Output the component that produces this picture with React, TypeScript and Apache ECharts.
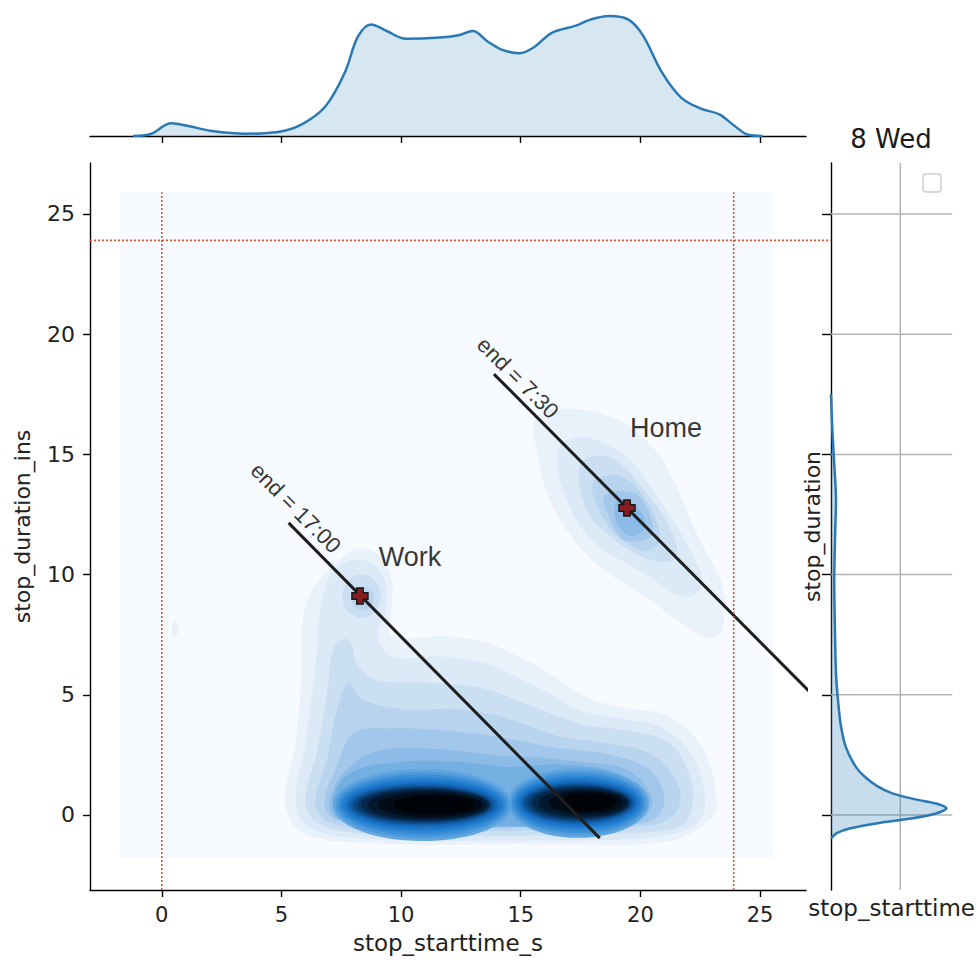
import React, { useEffect, useRef } from "react";
import * as echarts from "echarts";

// ---------- axis ticks ----------
const TICKS = [0, 5, 10, 15, 20, 25];
const X_RANGE = [-3.0, 26.92];
const Y_RANGE = [-3.12, 27.12];

// ---------- top marginal KDE (stop_starttime) ----------
const TOP_X = [-1.2, -0.5, 0.4, 1.1, 2.1, 3.5, 4.85, 5.85, 6.85, 7.65, 8.2, 8.75, 9.4, 10.2, 11.6, 12.4, 13.0, 13.6, 14.2, 14.95, 15.55, 16.3, 17.3, 17.9, 18.7, 19.5, 20.1, 20.9, 21.7, 22.5, 23.3, 23.9, 24.5, 25.1];
const TOP_DENS = [0, 0.014, 0.106, 0.083, 0.042, 0.019, 0.033, 0.097, 0.25, 0.53, 0.83, 0.93, 0.875, 0.81, 0.82, 0.84, 0.875, 0.79, 0.72, 0.69, 0.74, 0.86, 0.92, 0.97, 1.0, 0.97, 0.84, 0.53, 0.32, 0.23, 0.18, 0.09, 0.01, 0];

// ---------- right marginal KDE (stop_duration) ----------
const RIGHT_Y = [-0.97, -0.75, -0.55, -0.35, -0.15, 0.05, 0.28, 0.45, 0.65, 0.9, 1.2, 1.6, 2.0, 2.8, 3.7, 4.8, 5.9, 7.7, 9.8, 11.9, 13.2, 14.6, 16.0, 17.5];
const RIGHT_DENS = [0, 0.05, 0.17, 0.39, 0.69, 0.9, 1.0, 0.93, 0.73, 0.53, 0.4, 0.29, 0.215, 0.13, 0.086, 0.06, 0.043, 0.034, 0.028, 0.037, 0.043, 0.028, 0.012, 0];
const RIGHT_GRID_X = [0.6];

// ---------- joint KDE contour levels (data units) ----------
const LEVEL_COLORS = ["#f7fbff", "#e9f2fb", "#dce9f6", "#cbdff2", "#b8d4ee", "#a2c7ea", "#8bbbe6", "#74afe2"];
const CORE_COLORS = ["#62a6df", "#4f9bdc", "#3d90d8", "#2d86d4", "#217cce", "#1a72c6", "#1466b5", "#0f579e", "#0b4783", "#083766", "#052749", "#03192f", "#010c18", "#000307"];

const BG_LEVEL = [[-1.76, -1.8], [25.55, -1.8], [25.55, 25.9], [-1.76, 25.9]];
const C1_LOWER = [[5.14, 0.5], [5.6, 3.1], [5.84, 5.9], [5.9, 8.2], [6.3, 9.4], [7.3, 10.5], [8.2, 11.1], [9.1, 10.8], [9.6, 9.8], [9.6, 8.5], [9.5, 7.6], [10.1, 7.35], [11.75, 7.45], [13.6, 7.15], [15.7, 6.2], [17.75, 4.9], [19.1, 4.5], [21.2, 4.1], [22.6, 2.8], [23.2, 0.65], [23.0, -0.1], [21.2, -1.1], [15.7, -1.2], [8.7, -1.17], [5.9, -0.75]];
const C1_HOME = [[15.66, 16.57], [17.3, 16.9], [19.15, 16.4], [20.3, 15.5], [21.1, 14.5], [22.35, 11.7], [23.45, 9.5], [23.5, 8.2], [23.2, 7.4], [22.35, 7.56], [20.4, 8.94], [18.0, 10.6], [16.35, 12.8], [15.66, 15.2]];
const C1_SPOT = [0.55, 7.75, 0.13, 0.35];
const C2_LOWER = [[5.6, 0.5], [6.0, 3.0], [6.4, 6.0], [6.6, 8.4], [7.0, 9.9], [7.9, 10.6], [8.9, 10.4], [9.4, 9.5], [9.3, 8.3], [9.0, 7.6], [9.6, 6.6], [11.5, 6.6], [13.5, 6.3], [15.7, 5.3], [17.6, 4.3], [19.3, 4.0], [21.0, 3.6], [22.2, 2.4], [22.7, 0.7], [22.4, -0.3], [20.8, -0.9], [15.7, -1.05], [8.7, -1.0], [6.2, -0.55]];
const C2_HOME = [[16.6, 15.3], [17.75, 15.7], [19.4, 14.9], [20.8, 13.1], [22.1, 11.0], [22.6, 9.5], [21.8, 9.07], [20.1, 10.1], [18.0, 11.4], [16.8, 13.4]];
const C3_LOWER = [[6.0, 0.5], [6.5, 2.7], [6.9, 5.0], [7.2, 7.0], [7.8, 7.3], [8.2, 6.2], [9.0, 5.6], [11.0, 5.5], [13.3, 5.3], [15.3, 4.6], [17.5, 3.8], [19.5, 3.5], [21.2, 3.0], [22.0, 1.8], [22.2, 0.6], [21.7, -0.45], [19.5, -0.75], [15.0, -0.85], [9.0, -0.82], [6.6, -0.4]];
const C3_HOME = [[17.5, 14.6], [18.7, 14.9], [20.1, 13.6], [21.2, 12.0], [21.5, 10.7], [20.5, 10.6], [19.0, 11.4], [17.75, 12.7]];
const C3_WORK = [8.35, 9.1, 0.8, 0.9];
const C4_LOWER = [[6.4, 0.45], [6.9, 2.3], [7.3, 4.3], [7.8, 5.5], [8.4, 4.8], [10.0, 4.4], [12.5, 4.4], [14.5, 4.0], [16.5, 3.3], [18.5, 3.0], [20.5, 2.5], [21.5, 1.4], [21.6, 0.3], [20.6, -0.4], [15.0, -0.65], [9.0, -0.62], [7.0, -0.3]];
const C4_HOME = [[18.0, 13.8], [19.15, 14.1], [20.3, 13.0], [20.8, 11.4], [20.0, 11.0], [18.6, 12.1]];
const C4_WORK = [8.4, 9.0, 0.45, 0.5];
const C5_LOWER = [[6.8, 0.45], [7.3, 2.0], [8.0, 3.4], [9.5, 3.6], [12.0, 3.5], [14.3, 3.2], [16.5, 2.8], [18.8, 2.5], [20.5, 1.8], [21.0, 0.5], [20.3, -0.3], [15.0, -0.5], [9.0, -0.48], [7.3, -0.2]];
const C5_HOME = [[18.5, 13.3], [19.9, 13.3], [20.5, 11.7], [19.4, 11.4], [18.75, 12.25]];
const C6_LOWER = [[7.0, 0.45], [7.6, 1.75], [9.0, 2.65], [11.5, 2.75], [13.8, 2.5], [15.5, 2.4], [17.5, 2.2], [19.5, 1.85], [20.5, 0.6], [19.8, -0.3], [15.0, -0.5], [9.0, -0.48], [7.4, -0.2]];
const C6_HOME = [[19.0, 13.0], [19.8, 12.9], [20.2, 12.0], [19.6, 11.6], [19.0, 12.2]];
const C7_LOWER = [[7.15, 0.45], [7.8, 1.7], [10.0, 2.2], [12.5, 2.2], [14.4, 2.0], [16.5, 2.1], [18.7, 1.85], [20.2, 1.0], [20.3, 0.2], [19.4, -0.45], [16.0, -0.55], [14.4, -0.45], [11.0, -0.55], [8.0, -0.35]];
// core ellipses [cx, cy, rx, ry], one row per level, light to dark
const LEFT_CORE = [[10.9, 0.42, 3.75, 1.5], [10.9, 0.42, 3.65, 1.38], [10.9, 0.42, 3.55, 1.27], [10.9, 0.42, 3.45, 1.17], [10.9, 0.42, 3.35, 1.07], [10.9, 0.42, 3.24, 0.98], [10.9, 0.42, 3.13, 0.9], [10.9, 0.42, 3.02, 0.83], [10.9, 0.42, 2.91, 0.77], [10.95, 0.42, 2.8, 0.71], [11.0, 0.42, 2.68, 0.66], [11.1, 0.42, 2.5, 0.6], [11.2, 0.42, 2.2, 0.5], [11.4, 0.42, 1.7, 0.4]];
const RIGHT_CORE = [[17.4, 0.5, 2.95, 1.45], [17.4, 0.5, 2.86, 1.34], [17.4, 0.5, 2.77, 1.24], [17.4, 0.5, 2.68, 1.14], [17.4, 0.5, 2.59, 1.05], [17.4, 0.5, 2.5, 0.97], [17.4, 0.5, 2.41, 0.89], [17.4, 0.5, 2.32, 0.82], [17.4, 0.5, 2.23, 0.76], [17.45, 0.5, 2.13, 0.7], [17.5, 0.5, 2.02, 0.64], [17.6, 0.5, 1.85, 0.57], [17.7, 0.52, 1.55, 0.48], [17.85, 0.54, 1.15, 0.37]];

// ---------- annotations ----------
const LINE_WORK = [[5.3, 12.15], [18.3, -0.96]];
const LINE_HOME = [[13.88, 18.34], [27.5, 4.7]];
const CENTROIDS = [[8.28, 9.11], [19.44, 12.77]];
const RED_V1 = [[0, -3.12], [0, 25.9]];
const RED_V2 = [[23.9, -3.12], [23.9, 25.9]];
const RED_H = [[-3.0, 23.9], [27.95, 23.9]];
const TEXT_LABELS = [
  { text: "end = 17:00", pos: [5.6, 12.77], rotate: -45, size: 22 },
  { text: "end = 7:30", pos: [14.88, 18.18], rotate: -45, size: 22 },
  { text: "Home", pos: [21.07, 16.1], rotate: 0, size: 27 },
  { text: "Work", pos: [10.37, 10.73], rotate: 0, size: 27 },
];

type Shape = { kind: "poly" | "ell"; d: any; color: string; smooth: number };
const poly = (d: number[][], level: number, smooth = 0.35): Shape => ({ kind: "poly", d, color: LEVEL_COLORS[level], smooth });
const ell = (d: number[], color: string): Shape => ({ kind: "ell", d, color, smooth: 0 });
const SHAPES: Shape[] = [
  poly(BG_LEVEL, 0, 0),
  ell(C1_SPOT, LEVEL_COLORS[1]),
  poly(C1_LOWER, 1), poly(C1_HOME, 1),
  poly(C2_LOWER, 2), poly(C2_HOME, 2),
  poly(C3_LOWER, 3), poly(C3_HOME, 3), ell(C3_WORK, LEVEL_COLORS[3]),
  poly(C4_LOWER, 4), poly(C4_HOME, 4), ell(C4_WORK, LEVEL_COLORS[4]),
  poly(C5_LOWER, 5), poly(C5_HOME, 5),
  poly(C6_LOWER, 6), poly(C6_HOME, 6),
  poly(C7_LOWER, 7),
  ...LEFT_CORE.flatMap((e, i) => [ell(e, CORE_COLORS[i]), ell(RIGHT_CORE[i], CORE_COLORS[i])]),
];

const FONT = "DejaVu Sans";
const ARIAL = "Liberation Sans";
const KDE_LINE = "#2a78b4";
const KDE_FILL = "rgba(31,119,180,0.25)";
const RED = "#e2502f";

export default function App() {
  const ref = useRef<HTMLDivElement>(null);
  useEffect(() => {
    if (!ref.current) return;
    const chart = echarts.init(ref.current, null, { renderer: "svg" });

    const redLine = (data: number[][]) => ({
      type: "line", xAxisIndex: 0, yAxisIndex: 0, data, symbol: "none", z: 6,
      lineStyle: { color: RED, width: 1.6, type: [2, 2] }, silent: true,
    });
    const blackLine = (data: number[][]) => ({
      type: "line", xAxisIndex: 0, yAxisIndex: 0, data, symbol: "none", z: 4,
      lineStyle: { color: "#1e1e1e", width: 3 }, silent: true,
    });
    const gridSeries: any[] = TICKS.map((v) => ({
      type: "line", xAxisIndex: 2, yAxisIndex: 2, data: [[0, v], [1.05, v]], symbol: "none",
      lineStyle: { color: "#b3b3b3", width: 1.5 }, silent: true, z: 1,
    }));
    RIGHT_GRID_X.forEach((v) => gridSeries.push({
      type: "line", xAxisIndex: 2, yAxisIndex: 2, data: [[v, Y_RANGE[0]], [v, Y_RANGE[1]]], symbol: "none",
      lineStyle: { color: "#b3b3b3", width: 1.5 }, silent: true, z: 1,
    }));

    const staticGraphics: any[] = [
      {
        id: "title", type: "text", x: 891, y: 139, z: 10,
        style: { text: "8 Wed", fontSize: 26, fontFamily: FONT, fill: "#1a1a1a", textAlign: "center", textVerticalAlign: "middle" },
      },
      {
        id: "legendBox", type: "rect", shape: { x: 923, y: 174, width: 18, height: 18, r: 3 }, z: 10,
        style: { fill: "#ffffff", stroke: "#cfcfcf", lineWidth: 1.5 },
      },
    ];

    const option: any = {
      animation: false,
      backgroundColor: "#ffffff",
      grid: [
        { left: 90, top: 163, width: 716, height: 727 },
        { left: 90, top: 10, width: 716, height: 126 },
        { left: 831, top: 163, width: 122, height: 727 },
      ],
      xAxis: [
        {
          gridIndex: 0, type: "value", min: X_RANGE[0], max: X_RANGE[1],
          axisLine: { onZero: false, lineStyle: { color: "#000", width: 1.4 } },
          axisTick: { length: 7, customValues: TICKS, lineStyle: { color: "#000", width: 1.4 } },
          axisLabel: { customValues: TICKS, fontSize: 21, color: "#222", margin: 14, fontFamily: FONT },
          splitLine: { show: false },
          name: "stop_starttime_s", nameLocation: "middle", nameGap: 41,
          nameTextStyle: { fontSize: 23, color: "#222", fontFamily: FONT },
        },
        {
          gridIndex: 1, type: "value", min: X_RANGE[0], max: X_RANGE[1],
          axisLine: { onZero: false, lineStyle: { color: "#000", width: 1.4 } },
          axisTick: { length: 7, customValues: TICKS, lineStyle: { color: "#000", width: 1.4 } },
          axisLabel: { show: false }, splitLine: { show: false },
        },
        {
          gridIndex: 2, type: "value", min: 0, max: 1.05,
          axisLine: { show: false, onZero: false }, axisTick: { show: false }, axisLabel: { show: false }, splitLine: { show: false },
          name: "stop_starttime", nameLocation: "middle", nameGap: 6,
          nameTextStyle: { fontSize: 23, color: "#222", fontFamily: FONT, verticalAlign: "top" },
        },
      ],
      yAxis: [
        {
          gridIndex: 0, type: "value", min: Y_RANGE[0], max: Y_RANGE[1],
          axisLine: { show: true, onZero: false, lineStyle: { color: "#000", width: 1.4 } },
          axisTick: { show: true, length: 7, customValues: TICKS, lineStyle: { color: "#000", width: 1.4 } },
          axisLabel: { customValues: TICKS, fontSize: 22, color: "#222", margin: 15, fontFamily: FONT },
          splitLine: { show: false },
          name: "stop_duration_ins", nameLocation: "middle", nameGap: 57,
          nameTextStyle: { fontSize: 22, color: "#222", fontFamily: FONT },
        },
        { gridIndex: 1, type: "value", min: 0, max: 1.05, show: false },
        {
          gridIndex: 2, type: "value", min: Y_RANGE[0], max: Y_RANGE[1],
          axisLine: { show: true, onZero: false, lineStyle: { color: "#000", width: 1.4 } },
          axisTick: { show: true, length: 9, customValues: TICKS, lineStyle: { color: "#000", width: 1.4 } },
          axisLabel: { show: false }, splitLine: { show: false },
          name: "stop_duration", nameLocation: "middle", nameGap: 8,
          nameTextStyle: { fontSize: 22, color: "#222", fontFamily: FONT },
        },
      ],
      graphic: staticGraphics,
      series: [
        {
          type: "custom", xAxisIndex: 0, yAxisIndex: 0, z: 2, silent: true,
          data: SHAPES.map((s, i) => [i, 0]),
          encode: { x: -1, y: -1 },
          renderItem: (params: any, api: any) => {
            const s = SHAPES[params.dataIndex];
            if (s.kind === "poly") {
              const pts = (s.d as number[][]).map((p) => api.coord(p));
              return { type: "polygon", shape: { points: pts, smooth: s.smooth }, style: { fill: s.color } };
            }
            const [cx, cy, rx, ry] = s.d as number[];
            const c = api.coord([cx, cy]);
            const sz = api.size([rx, ry]);
            return { type: "ellipse", shape: { cx: c[0], cy: c[1], rx: sz[0], ry: sz[1] }, style: { fill: s.color } };
          },
        },
        blackLine(LINE_WORK),
        blackLine(LINE_HOME),
        redLine(RED_V1),
        redLine(RED_V2),
        {
          type: "scatter", xAxisIndex: 0, yAxisIndex: 0, z: 7, silent: true,
          data: CENTROIDS,
          symbol: "path://M3,0 H7 V3 H10 V7 H7 V10 H3 V7 H0 V3 H3 Z",
          symbolSize: 16,
          itemStyle: { color: "#8a1d1d", borderColor: "#1a1a1a", borderWidth: 1.5, opacity: 1 },
        },
        {
          type: "scatter", xAxisIndex: 0, yAxisIndex: 0, z: 8, silent: true,
          symbolSize: 1, itemStyle: { color: "rgba(0,0,0,0)" },
          data: TEXT_LABELS.map((t) => ({
            value: t.pos,
            label: {
              show: true, position: "inside", formatter: t.text, rotate: t.rotate,
              fontSize: t.size, fontFamily: ARIAL, color: "#000",
            },
          })),
        },
        {
          type: "line", xAxisIndex: 1, yAxisIndex: 1, smooth: 0.35, symbol: "none",
          data: TOP_X.map((x, i) => [x, TOP_DENS[i]]),
          lineStyle: { color: KDE_LINE, width: 2.5 },
          areaStyle: { color: KDE_FILL }, silent: true,
        },
        ...gridSeries,
        {
          type: "custom", xAxisIndex: 2, yAxisIndex: 2, z: 3, silent: true,
          data: [[0, 0]],
          renderItem: (params: any, api: any) => {
            const pts = RIGHT_Y.map((y, i) => api.coord([RIGHT_DENS[i], y]));
            const base0 = api.coord([0, RIGHT_Y[0]]);
            const base1 = api.coord([0, RIGHT_Y[RIGHT_Y.length - 1]]);
            return {
              type: "group",
              children: [
                { type: "polygon", shape: { points: [base0, ...pts, base1], smooth: 0.3 }, style: { fill: KDE_FILL } },
                { type: "polyline", shape: { points: pts, smooth: 0.3 }, style: { stroke: KDE_LINE, lineWidth: 2.5, fill: "none" } },
              ],
            };
          },
        },
      ],
    };
    chart.setOption(option);

    // horizontal red dotted line runs past the main axes up to the marginal spine
    const p0 = chart.convertToPixel({ xAxisIndex: 0, yAxisIndex: 0 }, RED_H[0]) as number[];
    const p1 = chart.convertToPixel({ xAxisIndex: 0, yAxisIndex: 0 }, RED_H[1]) as number[];
    chart.setOption({
      graphic: [
        ...staticGraphics,
        {
          id: "redH", type: "line", z: 6, silent: true,
          shape: { x1: p0[0], y1: p0[1], x2: p1[0], y2: p1[1] },
          style: { stroke: RED, lineWidth: 1.6, lineDash: [2, 2] },
        },
      ],
    });
    return () => chart.dispose();
  }, []);
  return <div ref={ref} style={{ position: "fixed", left: 0, top: 0, width: 978, height: 963 }} />;
}
